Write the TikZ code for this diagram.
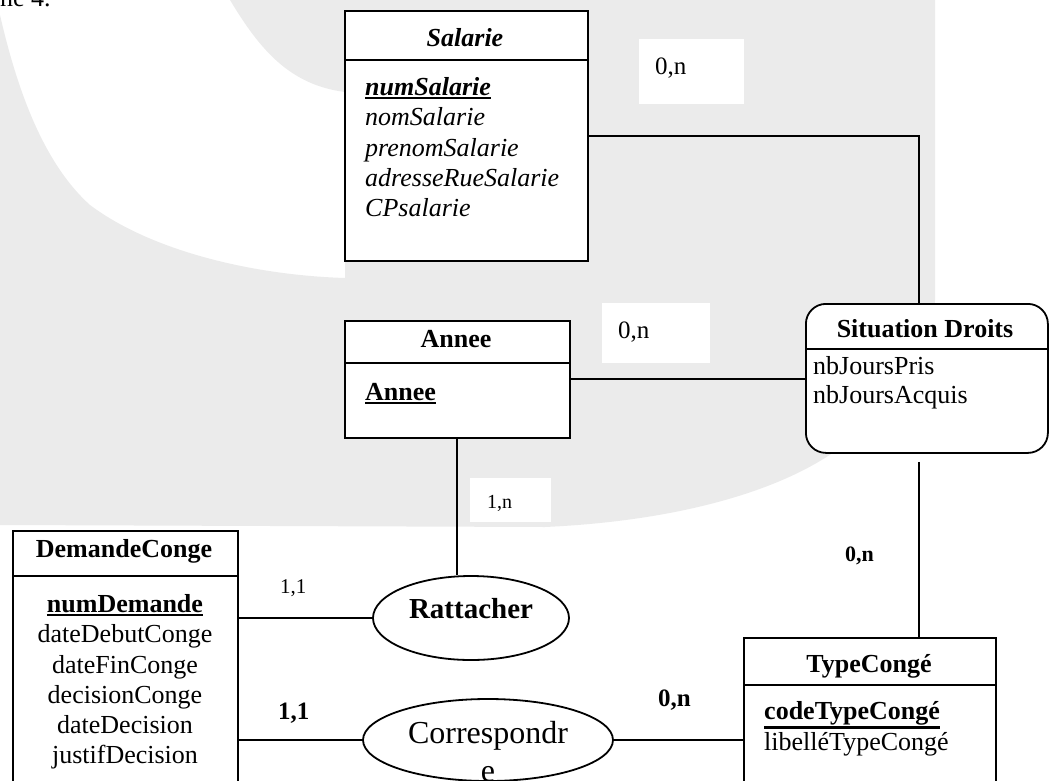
\documentclass[tikz,border=0pt]{standalone}
\usepackage{fontspec}
\setmainfont{Liberation Serif}
\usetikzlibrary{shapes.geometric}
\definecolor{wm}{RGB}{235,235,235}
\newcommand{\myul}[1]{\leavevmode\vtop{\hbox{#1}\kern1.5pt\hrule height 2.6pt}}
\tikzset{
  ent/.style={draw, line width=1.8pt, fill=white, rectangle, inner sep=0pt, anchor=north west},
  rel/.style={draw, line width=1.8pt, fill=white, ellipse, inner sep=0pt},
  link/.style={line width=1.9pt},
  lbox/.style={fill=white, inner sep=0pt, anchor=north west},
  att/.style={inner sep=0pt, font=\fontsize{26}{30}\selectfont},
  card/.style={inner sep=0pt, anchor=base west},
}
\begin{document}
\begin{tikzpicture}[x=1pt,y=-1pt]
\useasboundingbox (0,0) rectangle (1053,780);
\clip (0,0) rectangle (1053,780);
% watermark background
\fill[wm] (0,15) -- (0,525) -- (545,527)
  .. controls (700,520) and (820,480) .. (870,420)
  .. controls (920,360) and (935,330) .. (935,300)
  -- (935,0) -- (230,0)
  .. controls (260,50) and (290,85) .. (345,92)
  -- (345,278)
  .. controls (250,275) and (150,250) .. (90,205)
  .. controls (40,160) and (15,80) .. (0,15) -- cycle;
\node[att, anchor=base west] (cap) at (0,6) {ne 4.};

% label boxes
\node[lbox, minimum width=105pt, minimum height=65pt] (lb1) at (639,39) {};
\node[lbox, minimum width=108pt, minimum height=60pt] (lb2) at (602,303) {};
\node[lbox, minimum width=81pt, minimum height=44pt] (lb3) at (470,478) {};

% entities
\node[ent, minimum width=243pt, minimum height=250pt] (sal) at (344,10) {};
\draw[link] ([yshift=-50pt]sal.north west) -- ([yshift=-50pt]sal.north east);
\node[ent, minimum width=225pt, minimum height=117pt] (annee) at (344,320) {};
\draw[link] ([yshift=-43pt]annee.north west) -- ([yshift=-43pt]annee.north east);
\node[ent, rounded corners=20pt, minimum width=242pt, minimum height=149pt] (sd) at (805,303) {};
\draw[link] ([yshift=-46pt]sd.north west) -- ([yshift=-46pt]sd.north east);
\node[ent, minimum width=225pt, minimum height=270pt] (dc) at (12,530) {};
\draw[link] ([yshift=-46pt]dc.north west) -- ([yshift=-46pt]dc.north east);
\node[ent, minimum width=252pt, minimum height=170pt] (tc) at (743,637) {};
\draw[link] ([yshift=-48pt]tc.north west) -- ([yshift=-48pt]tc.north east);

% relations
\node[rel, minimum width=196pt, minimum height=84pt] (ratt) at (471,618) {};
\node[rel, minimum width=250pt, minimum height=82pt] (corr) at (488,740) {};

% connectors
\draw[link] (sal.east) -| ([xshift=-8pt]sd.north);
\draw[link] (annee.east) -- (annee.east -| sd.west);
\draw[link] (annee.south) -- (annee.south |- ratt.north);
\draw[link] ([xshift=-8pt,yshift=-8pt]sd.south) -- ([xshift=-8pt]sd.south |- tc.north);
\draw[link] (dc.east |- ratt.west) -- (ratt.west);
\draw[link] (dc.east |- corr.west) -- (corr.west);
\draw[link] (corr.east) -- (corr.east -| tc.west);

% Salarie texts
\node[att, anchor=base] (salT) at (465,46) {\textbf{\textit{Salarie}}};
\node[att, anchor=base west] (sa1) at (365,95) {\myul{\textbf{\textit{numSalarie}}}};
\node[att, anchor=base west] (sa2) at (365,125) {\textit{nomSalarie}};
\node[att, anchor=base west] (sa3) at (365,156) {\textit{prenomSalarie}};
\node[att, anchor=base west] (sa4) at (365,186) {\textit{adresseRueSalarie}};
\node[att, anchor=base west] (sa5) at (365,216) {\textit{CPsalarie}};

% Annee texts
\node[att, anchor=base] (anT) at (456,347) {\textbf{Annee}};
\node[att, anchor=base west] (an1) at (365,400) {\myul{\textbf{Annee}}};

% Situation Droits texts
\node[att, anchor=base] (sdT) at (925,337) {\textbf{Situation Droits}};
\node[att, anchor=base west] (sd1) at (813,374) {nbJoursPris};
\node[att, anchor=base west] (sd2) at (813,403) {nbJoursAcquis};

% DemandeConge texts
\node[att, anchor=base] (dcT) at (124,557) {\textbf{DemandeConge}};
\node[att, anchor=base] (dc1) at (125,612) {\myul{\textbf{numDemande}}};
\node[att, anchor=base] (dc2) at (125,642) {dateDebutConge};
\node[att, anchor=base] (dc3) at (125,673) {dateFinConge};
\node[att, anchor=base] (dc4) at (125,703) {decisionConge};
\node[att, anchor=base] (dc5) at (125,733) {dateDecision};
\node[att, anchor=base] (dc6) at (125,763) {justifDecision};

% TypeConge texts
\node[att, anchor=base] (tcT) at (869,672) {\textbf{TypeCongé}};
\node[att, anchor=base west] (tc1) at (764,719) {\myul{\textbf{codeTypeCongé}}};
\node[att, anchor=base west] (tc2) at (764,750) {libelléTypeCongé};

% relation texts
\node[inner sep=0pt, anchor=base, font=\fontsize{29}{33}\selectfont] (rattT) at (471,618) {\textbf{Rattacher}};
\node[inner sep=0pt, anchor=base, font=\fontsize{32}{38}\selectfont] (corrT1) at (488,743) {Correspondr};
\node[inner sep=0pt, anchor=base, font=\fontsize{32}{38}\selectfont] (corrT2) at (488,781) {e};

% cardinalities
\node[card, font=\fontsize{25}{30}\selectfont] (c1) at (655,74) {0,n};
\node[card, font=\fontsize{25}{30}\selectfont] (c2) at (618,338) {0,n};
\node[card, font=\fontsize{20}{24}\selectfont] (c3) at (487,508) {1,n};
\node[card, font=\fontsize{21}{24}\selectfont] (c4) at (280,593) {1,1};
\node[card, font=\fontsize{25}{30}\selectfont] (c5) at (278,719) {\textbf{1,1}};
\node[card, font=\fontsize{22}{26}\selectfont] (c6) at (845,561) {\textbf{0,n}};
\node[card, font=\fontsize{25}{30}\selectfont] (c7) at (658,706) {\textbf{0,n}};
\end{tikzpicture}
\end{document}
